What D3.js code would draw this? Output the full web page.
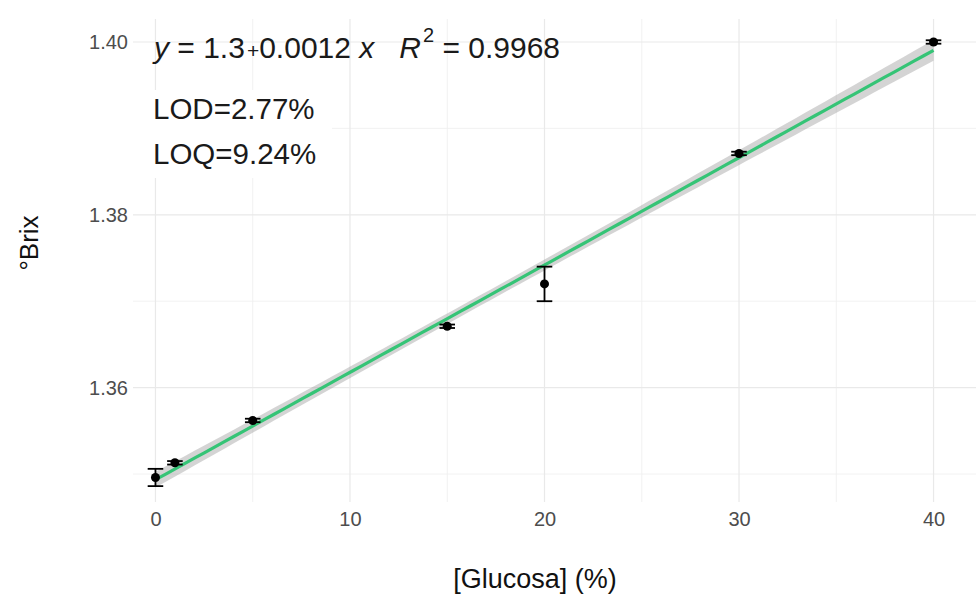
<!DOCTYPE html>
<html>
<head>
<meta charset="utf-8">
<script src="https://cdn.jsdelivr.net/npm/d3@7"></script>
<style>
	body{margin:0;background:#fff;}
	svg{display:block;font-family:"Liberation Sans",Arial,sans-serif;}
</style>
</head>
<body>
<svg id="chart" width="976" height="600"></svg>
<script>

// mesures : [Glucosa] (%) et °Brix (moyenne, écart-type)
let glucosa = [0, 1, 5, 15, 20, 30, 40];
let brixMean = [1.3496, 1.3513, 1.3562, 1.3671, 1.3720, 1.3871, 1.4000];
let brixSd = [0.0010, 0.0002, 0.0002, 0.0002, 0.0020, 0.0002, 0.0002];
let replicates = 3;

let xTicks = [0, 10, 20, 30, 40];
let xMinor = [5, 15, 25, 35];
let yTicks = [1.36, 1.38, 1.40];
let yMinor = [1.35, 1.37, 1.39];

let eqParts = [
	{t: "y", it: true}, {t: " = 1.3"}, {t: "+", small: true}, {t: "0.0012 "},
	{t: "x", it: true}, {t: "   "}, {t: "R", it: true}, {t: "2", sup: true}, {t: " = 0.9968"}
];
let limitLines = ["LOD=2.77%", "LOQ=9.24%"];

let svg = d3.select("#chart");

/*//////////////////////////////
 * régression linéaire (lm) + IC 95%
 //////////////////////////////*/
let n = glucosa.length;
let mx = d3.mean(glucosa);
let my = d3.mean(brixMean);
let sxx = d3.sum(glucosa, d => (d - mx) * (d - mx));
let sxy = d3.sum(glucosa, (d, i) => (d - mx) * (brixMean[i] - my));
let slope = sxy / sxx;
let inter = my - slope * mx;

// résidus sur toutes les répétitions
let sse = replicates * d3.sum(glucosa, (d, i) => Math.pow(brixMean[i] - (inter + slope * d), 2))
	+ (replicates - 1) * d3.sum(brixSd, s => s * s);
let N = n * replicates;
let s = Math.sqrt(sse / (N - 2));
let tval = 2.093; // qt(0.975, 19)

let smooth = d3.range(80).map(function(i){
	let gx = d3.min(glucosa) + i * (d3.max(glucosa) - d3.min(glucosa)) / 79;
	let fit = inter + slope * gx;
	let se = s * Math.sqrt(1 / N + (gx - mx) * (gx - mx) / (replicates * sxx));
	return {x: gx, y: fit, lo: fit - tval * se, hi: fit + tval * se};
});

let capW = 0.8;
let xLo = d3.min(glucosa) - capW / 2, xHi = d3.max(glucosa) + capW / 2;
let yLo = Math.min(d3.min(brixMean, (d, i) => d - brixSd[i]), d3.min(smooth, d => d.lo));
let yHi = Math.max(d3.max(brixMean, (d, i) => d + brixSd[i]), d3.max(smooth, d => d.hi));
let ex = (xHi - xLo) * 0.05, ey = (yHi - yLo) * 0.05;

let x = d3.scaleLinear().domain([xLo - ex, xHi + ex]).range([108, 981]);
let y = d3.scaleLinear().domain([yLo - ey, yHi + ey]).range([510, 17.5]);

// limites visibles du panneau
let pTop = 19, pBottom = 502;
let pLeft = 133, pRight = 976;

// grille
let grid = svg.append("g");
grid.selectAll(".ymin").data(yMinor).enter().append("line")
	.attr("x1", pLeft).attr("x2", pRight)
	.attr("y1", d => y(d)).attr("y2", d => y(d))
	.style("stroke", "#efefef").style("stroke-width", 0.9);
grid.selectAll(".xmin").data(xMinor).enter().append("line")
	.attr("y1", pTop).attr("y2", pBottom)
	.attr("x1", d => x(d)).attr("x2", d => x(d))
	.style("stroke", "#efefef").style("stroke-width", 0.9);
grid.selectAll(".ymaj").data(yTicks).enter().append("line")
	.attr("x1", pLeft).attr("x2", pRight)
	.attr("y1", d => y(d)).attr("y2", d => y(d))
	.style("stroke", "#e9e9e9").style("stroke-width", 1.2);
grid.selectAll(".xmaj").data(xTicks).enter().append("line")
	.attr("y1", pTop).attr("y2", pBottom)
	.attr("x1", d => x(d)).attr("x2", d => x(d))
	.style("stroke", "#e9e9e9").style("stroke-width", 1.2);

// bande + droite
svg.append("path").datum(smooth)
	.attr("d", d3.area().x(d => x(d.x)).y0(d => y(d.lo)).y1(d => y(d.hi)))
	.style("fill", "#999999").style("fill-opacity", 0.42);
svg.append("path").datum(smooth)
	.attr("d", d3.line().x(d => x(d.x)).y(d => y(d.y)))
	.style("fill", "none").style("stroke", "#35C476").style("stroke-width", 3.2);

// barres d'erreur
let pts = glucosa.map((g, i) => ({x: g, m: brixMean[i], sd: brixSd[i]}));
let eb = svg.append("g").selectAll("g").data(pts).enter().append("g")
	.style("stroke", "#000").style("stroke-width", 1.8);
eb.append("line")
	.attr("x1", d => x(d.x)).attr("x2", d => x(d.x))
	.attr("y1", d => y(d.m - d.sd)).attr("y2", d => y(d.m + d.sd));
eb.append("line")
	.attr("x1", d => x(d.x - capW / 2)).attr("x2", d => x(d.x + capW / 2))
	.attr("y1", d => y(d.m + d.sd)).attr("y2", d => y(d.m + d.sd));
eb.append("line")
	.attr("x1", d => x(d.x - capW / 2)).attr("x2", d => x(d.x + capW / 2))
	.attr("y1", d => y(d.m - d.sd)).attr("y2", d => y(d.m - d.sd));

svg.append("g").selectAll("circle").data(pts).enter().append("circle")
	.attr("cx", d => x(d.x)).attr("cy", d => y(d.m))
	.attr("r", 4.5).style("fill", "#000");

// axes
let ax = svg.append("g").attr("transform", "translate(0,510)")
	.call(d3.axisBottom(x).tickValues(xTicks).tickSize(0).tickPadding(2));
let ay = svg.append("g").attr("transform", "translate(" + pLeft + ",0)")
	.call(d3.axisLeft(y).tickValues(yTicks).tickFormat(d3.format(".2f")).tickSize(0).tickPadding(5));
[ax, ay].forEach(function(a){
	a.select(".domain").remove();
	a.selectAll("text").style("font-size", "20px").style("fill", "#4d4d4d")
		.style("font-family", "\"Liberation Sans\",Arial,sans-serif");
});

svg.append("text")
	.attr("x", 535).attr("y", 588)
	.attr("text-anchor", "middle")
	.style("font-size", "27px").style("fill", "#111")
	.text("[Glucosa] (%)");
svg.append("text")
	.attr("transform", "translate(38,243) rotate(-90)")
	.attr("text-anchor", "middle")
	.style("font-size", "26px").style("fill", "#111")
	.text("°Brix");

// équation
let eq = svg.append("text")
	.attr("x", 154).attr("y", 58)
	.style("font-size", "30px").style("fill", "#1a1a1a")
	.attr("xml:space", "preserve");
eq.selectAll("tspan").data(eqParts).enter().append("tspan")
	.text(d => d.t)
	.style("font-style", d => d.it ? "italic" : "normal")
	.style("font-size", d => d.sup ? "20px" : (d.small ? "21px" : "30px"))
	.attr("dy", function(d, i){
		if (d.sup) return -16;
		if (i > 0 && eqParts[i - 1].sup) return 16;
		return 0;
	})
	.attr("dx", d => d.small ? 2 : (d.sup ? 2 : 0));

// LOD / LOQ (étiquette blanche)
svg.append("rect")
	.attr("x", 133).attr("y", 90).attr("width", 199).attr("height", 88)
	.attr("rx", 5).style("fill", "#fff");
svg.append("g").selectAll("text").data(limitLines).enter().append("text")
	.attr("x", 153).attr("y", (d, i) => 119 + i * 45)
	.style("font-size", "29.5px").style("fill", "#1a1a1a")
	.text(d => d);

</script>
</body>
</html>
